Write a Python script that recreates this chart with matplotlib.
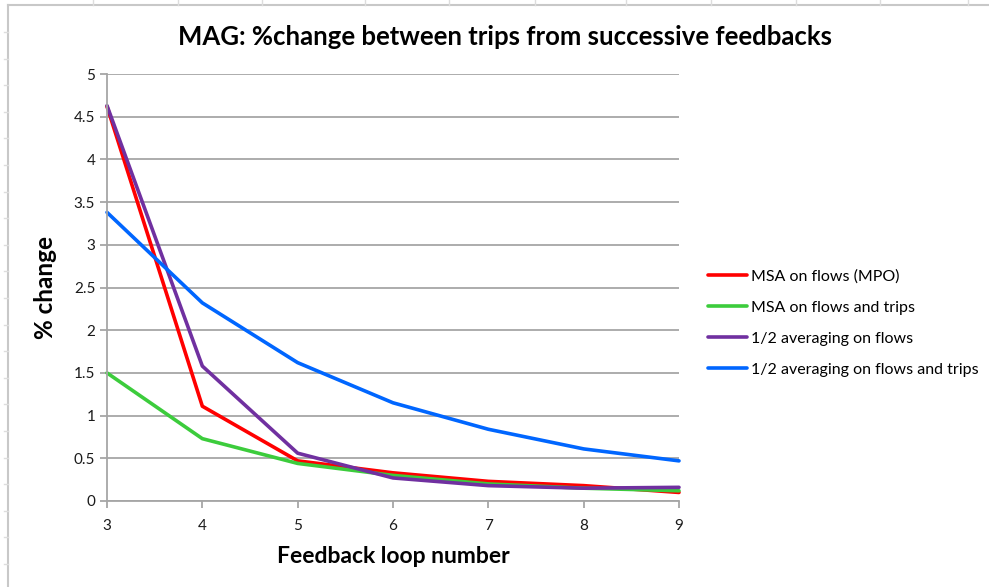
import matplotlib
matplotlib.use("Agg")
import matplotlib.pyplot as plt
from matplotlib.lines import Line2D

plt.rcParams['font.family'] = ['Lato', 'DejaVu Sans']

loops = [3, 4, 5, 6, 7, 8, 9]
msa_flows = [4.62, 1.11, 0.47, 0.33, 0.23, 0.18, 0.10]
msa_flows_trips = [1.50, 0.73, 0.44, 0.30, 0.20, 0.15, 0.12]
half_flows = [4.63, 1.58, 0.56, 0.27, 0.18, 0.15, 0.16]
half_flows_trips = [3.38, 2.32, 1.62, 1.15, 0.84, 0.61, 0.47]

series_names = ["MSA on flows (MPO)", "MSA on flows and trips",
                "1/2 averaging on flows", "1/2 averaging on flows and trips"]
series_values = [msa_flows, msa_flows_trips, half_flows, half_flows_trips]
colors = ["#ff0000", "#3ccc3c", "#7030a0", "#0066ff"]

W, H = 989, 587
fig = plt.figure(figsize=(W / 100, H / 100), dpi=100)
fig.patch.set_facecolor("white")

# spreadsheet frame decorations
frame_col = "#c8c8c8"
fig.add_artist(Line2D([8 / W, 1], [1 - 5 / H, 1 - 5 / H], color=frame_col, lw=1.5))
fig.add_artist(Line2D([8 / W, 8 / W], [0, 1 - 5 / H], color=frame_col, lw=1.5))
for xt in [93, 178, 262, 365, 449, 535, 626, 711, 796, 880, 968]:
    fig.add_artist(Line2D([xt / W, xt / W], [1, 1 - 5 / H], color="#dddddd", lw=1))
yt = 32
while yt < H:
    fig.add_artist(Line2D([4 / W, 8 / W], [1 - yt / H, 1 - yt / H], color="#dddddd", lw=1))
    yt += 26.6

x0, x1, y0, y1 = 107, 679, 501, 74
ax = fig.add_axes([x0 / W, 1 - y0 / H, (x1 - x0) / W, (y0 - y1) / H])
ax.set_xlim(3, 9)
ax.set_ylim(0, 5)

grid_col = "#a6a6a6"
ax.set_yticks([i * 0.5 for i in range(11)])
ax.set_yticklabels(["0", "0.5", "1", "1.5", "2", "2.5", "3", "3.5", "4", "4.5", "5"])
ax.set_xticks(loops)
ax.set_xticklabels([str(v) for v in loops])
ax.yaxis.grid(True, color=grid_col, lw=1.3)
ax.set_axisbelow(True)
for s in ["top", "right"]:
    ax.spines[s].set_visible(False)
for s in ["left", "bottom"]:
    ax.spines[s].set_color(grid_col)
    ax.spines[s].set_linewidth(1.3)
ax.tick_params(axis="both", colors=grid_col, length=5, width=1.3, labelsize=11,
               labelcolor="#1a1a1a")
ax.tick_params(axis="x", pad=8)

for name, vals, c in zip(series_names, series_values, colors):
    ax.plot(loops, vals, color=c, lw=2.6, label=name, solid_capstyle="round",
            clip_on=False)

ax.set_xlabel("Feedback loop number", fontsize=16.5, fontweight="bold", labelpad=9)
ax.set_ylabel("% change", fontsize=17.5, fontweight="bold", labelpad=12)

fig.text(505 / W, 1 - 37 / H, "MAG: %change between trips from successive feedbacks",
         ha="center", va="center", fontsize=18.5, fontweight="bold")

leg = fig.legend(loc="upper left", bbox_to_anchor=(702 / W, 1 - 263 / H),
                 frameon=False, fontsize=11.5, handlelength=2.4, handletextpad=0.25,
                 labelspacing=1.05, borderaxespad=0)

fig.savefig("out.png", dpi=100, facecolor="white")
